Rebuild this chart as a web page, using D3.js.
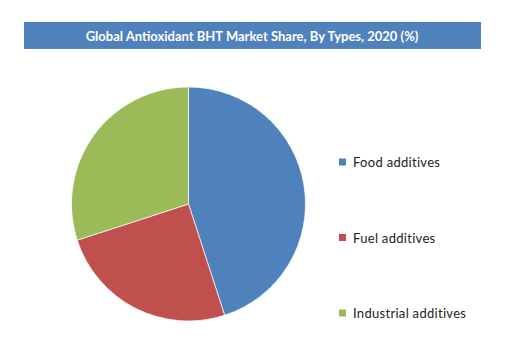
<!DOCTYPE html>
<html>
<head>
<meta charset="utf-8">
<script src="https://cdn.jsdelivr.net/npm/d3@7"></script>
<style>
  body { margin: 0; background: #fff; }
  svg { display: block; font-family: Lato, "Open Sans", sans-serif; }
</style>
</head>
<body>
<svg id="chart" width="513" height="360"></svg>
<script>
// Chart data.
const title = "Global Antioxidant BHT Market Share, By Types, 2020 (%)";
const types = ["Food additives", "Fuel additives", "Industrial additives"];
const shares = [45, 25, 30];
const colors = ["#4f81bd", "#c0504d", "#9bbb59"];

let svg = d3.select("#chart");

// Title banner.
svg.append("rect")
    .attr("x", 24).attr("y", 22)
    .attr("width", 457).attr("height", 27)
    .attr("fill", "#4f81bd");
svg.append("text")
    .attr("x", 252).attr("y", 36)
    .attr("text-anchor", "middle")
    .attr("dominant-baseline", "central")
    .attr("fill", "#fff")
    .style("font-size", "13px")
    .style("font-weight", "bold")
    .text(title);

// Pie, starting at 12 o'clock and running clockwise.
let pie = d3.pie().sort(null).value(d => d);
let arc = d3.arc().innerRadius(0).outerRadius(117);
let color = d3.scaleOrdinal().domain(types).range(colors);

svg.append("g")
    .attr("transform", "translate(188.5,204)")
    .selectAll("path")
    .data(pie(shares))
    .join("path")
    .attr("d", arc)
    .attr("fill", (d, i) => color(types[i]))
    .attr("stroke", "#fff")
    .attr("stroke-width", 0.7);

// Legend.
let legendY = d3.scalePoint().domain(types).range([162, 313]);
let legend = svg.append("g")
    .selectAll("g")
    .data(types)
    .join("g")
    .attr("transform", d => `translate(339,${legendY(d)})`);
legend.append("rect")
    .attr("x", 0).attr("y", -3.5)
    .attr("width", 7).attr("height", 7)
    .attr("fill", d => color(d));
legend.append("text")
    .attr("x", 14).attr("y", 0)
    .attr("dominant-baseline", "central")
    .attr("fill", "#222")
    .style("font-size", "13px")
    .style("letter-spacing", "0.3px")
    .text(d => d);
</script>
</body>
</html>
